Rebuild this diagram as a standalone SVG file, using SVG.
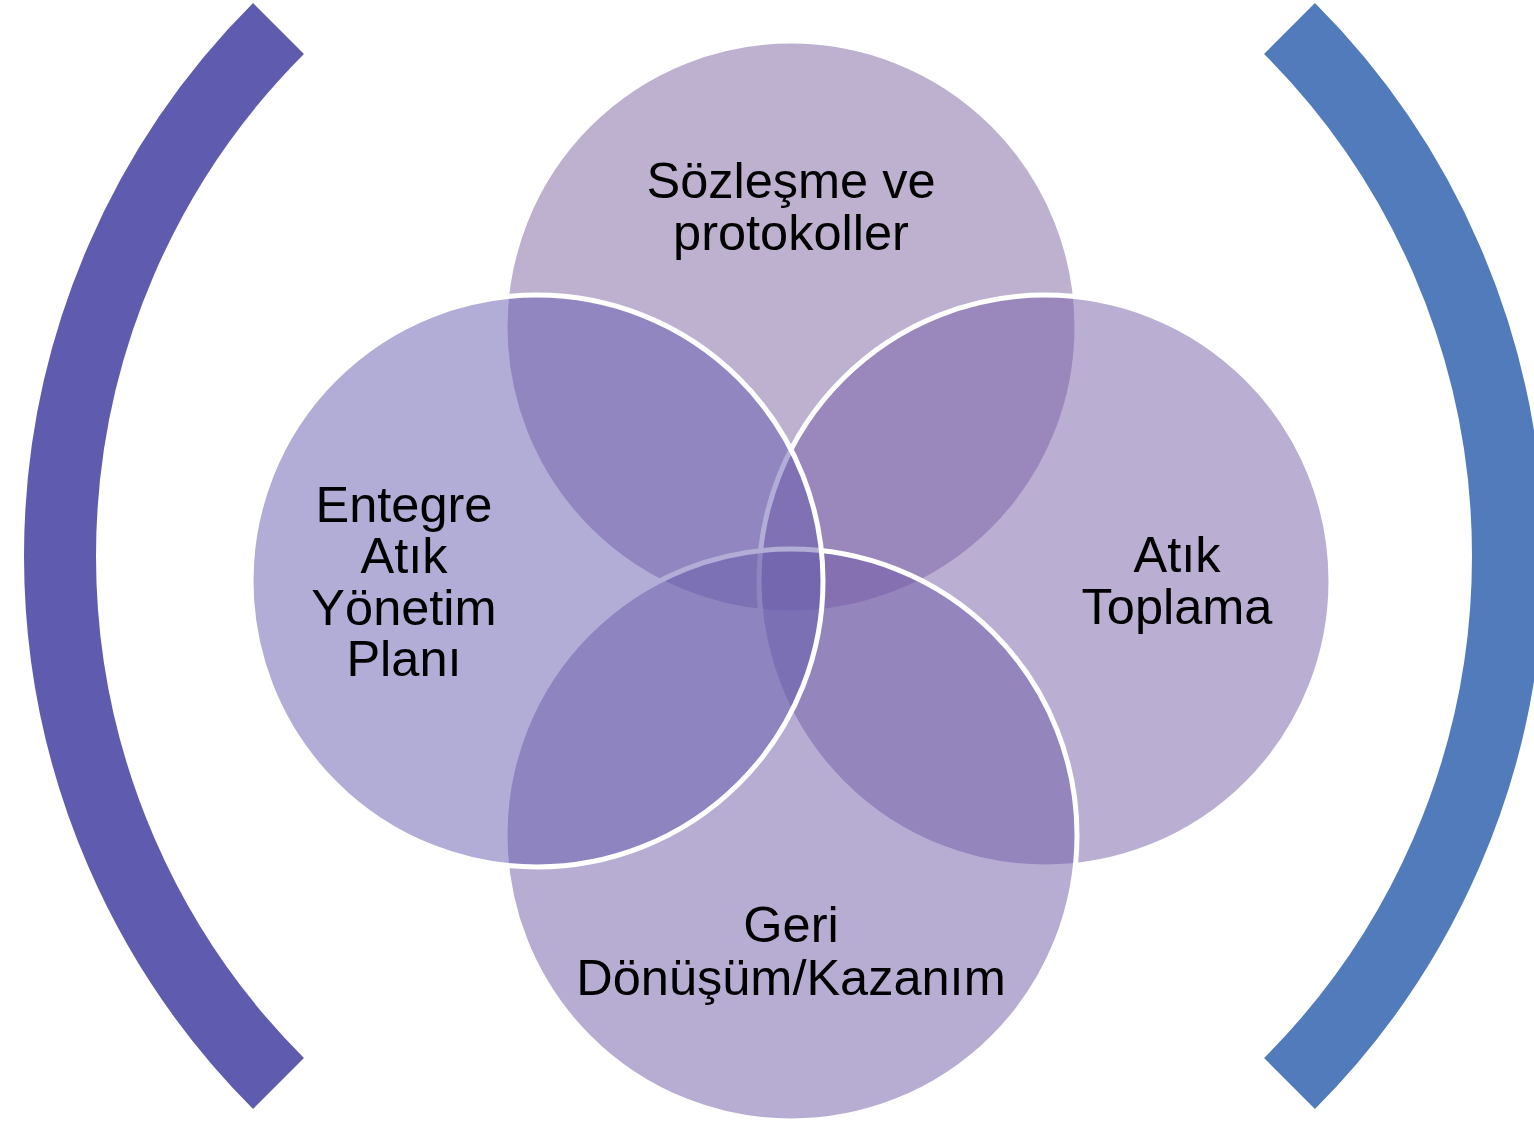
<svg xmlns="http://www.w3.org/2000/svg" width="1534" height="1121" viewBox="0 0 1534 1121">
<style>
.c{stroke:#ffffff;stroke-width:5}
.t{font-family:"Liberation Sans",Arial,sans-serif;font-size:50.5px;fill:#000000;text-anchor:middle}
.br{fill:none;stroke-width:72;stroke-linecap:butt}
</style>
<rect width="1534" height="1121" fill="#ffffff"/>
<g id="bracket-left"><path class="br" stroke="#5F5BAE" d="M 278.5 28.5 A 746 746 0 0 0 278.5 1083.5"/></g>
<g id="bracket-right"><path class="br" stroke="#527BBB" d="M 1289.5 28.5 A 746 746 0 0 1 1289.5 1083.5"/></g>
<g id="node-top"><circle class="c" cx="791" cy="327" r="286" fill="#7D63A1" fill-opacity="0.5"/></g>
<g id="node-right"><circle class="c" cx="1045" cy="581" r="286" fill="#755DA5" fill-opacity="0.5"/></g>
<g id="node-bottom"><circle class="c" cx="791" cy="835" r="286" fill="#6F5BA7" fill-opacity="0.5"/></g>
<g id="node-left"><circle class="c" cx="537" cy="581" r="286" fill="#635BAD" fill-opacity="0.5"/></g>
<g id="labels">
<text class="t" x="791" y="198">Sözleşme ve</text>
<text class="t" x="791" y="250">protokoller</text>
<text class="t" x="404" y="522">Entegre</text>
<text class="t" x="404" y="573">Atık</text>
<text class="t" x="404" y="625">Yönetim</text>
<text class="t" x="404" y="676">Planı</text>
<text class="t" x="1177" y="572">Atık</text>
<text class="t" x="1177" y="624">Toplama</text>
<text class="t" x="791" y="942">Geri</text>
<text class="t" x="791" y="995">Dönüşüm/Kazanım</text>
</g>
</svg>
